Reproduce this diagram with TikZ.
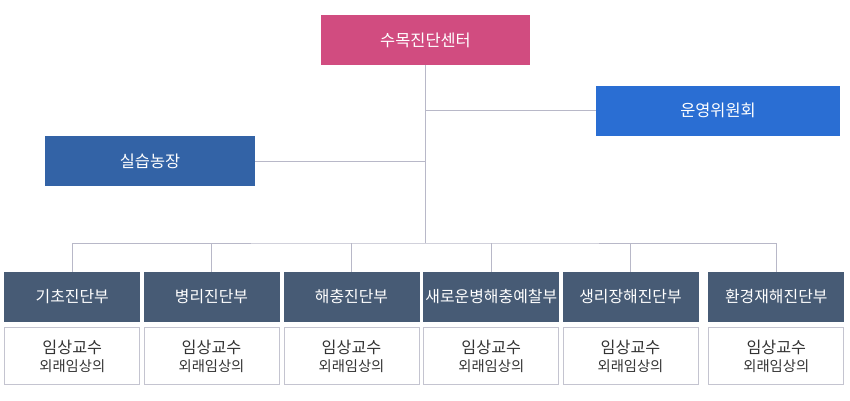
\documentclass[tikz,border=0pt]{standalone}
\usepackage{fontspec}
\setmainfont{Noto Sans CJK KR}
\usetikzlibrary{positioning, calc}
\definecolor{centerpink}{HTML}{D14C80}
\definecolor{boardblue}{HTML}{2A6ED3}
\definecolor{farmblue}{HTML}{3363A6}
\definecolor{deptslate}{HTML}{475B75}
\definecolor{wireline}{HTML}{B8B8C8}
\definecolor{staffline}{HTML}{C4C4D0}
\definecolor{stafftext}{HTML}{333333}
\tikzset{
  headbox/.style={
    rectangle, minimum width=#1, minimum height=50,
    text centered, text=white, inner sep=0pt,
    font=\fontsize{16.4}{19}\selectfont
  },
  deptbox/.style={
    rectangle, minimum width=136, minimum height=50,
    text centered, text=white, fill=deptslate, inner sep=0pt,
    font=\fontsize{15.9}{19}\selectfont
  },
  staffbox/.style={
    rectangle, minimum width=135, minimum height=57,
    draw=staffline, line width=0.9pt, fill=white,
    align=center, text=stafftext, inner sep=0pt,
    font=\fontsize{16.2}{19}\selectfont
  },
  wire/.style={draw=wireline, line width=0.9pt},
}
\newcommand{\staffnames}{임상교수\\[-1pt]{\fontsize{14.3}{19}\selectfont 외래임상의}}

\begin{document}
\begin{tikzpicture}[x=1pt, y=-1pt]
    \useasboundingbox (0,0) rectangle (850,400);

    \node[headbox=209, fill=centerpink] (center)    at (425.5, 40){수목진단센터};
    \node[headbox=244, fill=boardblue]  (committee) at (718, 110.5){운영위원회};
    \node[headbox=210, fill=farmblue]   (farm)      at (150, 161){실습농장};

    \coordinate (hub) at (425.5, 243);

    \node[deptbox] (d1) at (72.3, 297){기초진단부};
    \node[deptbox] (d2) at (211.5, 297){병리진단부};
    \node[deptbox] (d3) at (351.5, 297){해충진단부};
    \node[deptbox] (d4) at (491.3, 297){새로운병해충예찰부};
    \node[deptbox] (d5) at (630.5, 297){생리장해진단부};
    \node[deptbox] (d6) at (776.3, 297){환경재해진단부};

    \node[staffbox] (s1) at (72.3, 356){\staffnames};
    \node[staffbox] (s2) at (211.5, 356){\staffnames};
    \node[staffbox] (s3) at (351.5, 356){\staffnames};
    \node[staffbox] (s4) at (491.3, 356){\staffnames};
    \node[staffbox] (s5) at (630.5, 356){\staffnames};
    \node[staffbox] (s6) at (776.3, 356){\staffnames};

    % tree lines
    \draw[wire] (center.south) -- (hub);
    \draw[wire] (committee.west) -- (committee.west -| hub);
    \draw[wire] (farm.east) -- (farm.east -| hub);
    \draw[wire] (d1.north) |- (hub) -| (d6.north);
    \draw[wire] (d2.north) -- (d2.north |- hub);
    \draw[wire] (d3.north) -- (d3.north |- hub);
    \draw[wire] (d4.north) -- (d4.north |- hub);
    \draw[wire] (d5.north) -- (d5.north |- hub);
\end{tikzpicture}
\end{document}
